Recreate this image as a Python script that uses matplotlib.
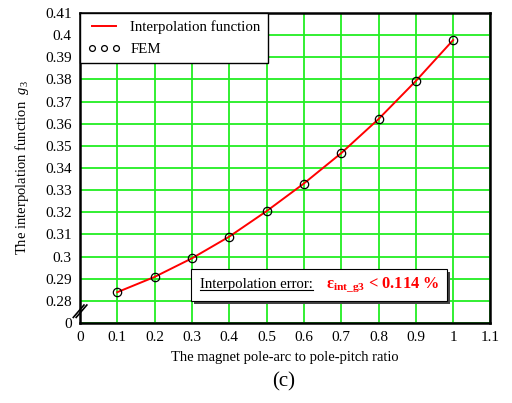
import matplotlib.pyplot as plt
from matplotlib.patches import Rectangle
from matplotlib.lines import Line2D

plt.rcParams['font.family'] = 'Liberation Serif'
plt.rcParams['mathtext.fontset'] = 'custom'
plt.rcParams['mathtext.rm'] = 'Liberation Serif'
plt.rcParams['mathtext.it'] = 'Liberation Serif:italic'
plt.rcParams['mathtext.bf'] = 'Liberation Serif:bold'

# datos
ratio = [0.1, 0.2, 0.3, 0.4, 0.5, 0.6, 0.7, 0.8, 0.9, 1.0]
g3_fem = [0.2839, 0.2907, 0.2992, 0.3089, 0.3205, 0.3329, 0.3466, 0.3621, 0.3793, 0.3978]
g3_interp = [0.2839, 0.2908, 0.2992, 0.3090, 0.3205, 0.3330, 0.3467, 0.3621, 0.3793, 0.3978]
xticks = [0, 0.1, 0.2, 0.3, 0.4, 0.5, 0.6, 0.7, 0.8, 0.9, 1.0, 1.1]
yticks = [0.27, 0.28, 0.29, 0.30, 0.31, 0.32, 0.33, 0.34, 0.35, 0.36, 0.37, 0.38, 0.39, 0.40, 0.41]
ylabels = ['0'] + ['%g' % v for v in yticks[1:]]

fig = plt.figure(figsize=(5.12, 4.03), dpi=100)
ax = fig.add_axes([0.156, 0.1985, 0.802, 0.7692])

ax.plot(ratio, g3_interp, color='red', lw=1.4, label='Interpolation function', zorder=3)
ax.plot(ratio, g3_fem, 'o', mfc='none', mec='black', ms=6, mew=0.9, label='FEM', zorder=4)

ax.set_xlim(0, 1.1)
ax.set_ylim(0.27, 0.41)
ax.set_xticks(xticks)
ax.set_xticklabels(['%g' % v for v in xticks])
ax.set_yticks(yticks)
ax.set_yticklabels(ylabels)
ax.tick_params(length=0, labelsize=11, pad=6)
ax.grid(True, color='#22ee22', lw=1.3)
ax.set_axisbelow(True)
for s in ax.spines.values():
    s.set_linewidth(1.8)

# marcas de corte en el eje y
for dx in (0.0, 0.007):
    ax.plot([-0.016 + dx, 0.010 + dx], [0.018, 0.058], color='black', lw=1.2,
            transform=ax.transAxes, clip_on=False, zorder=10)

ax.set_xlabel('The magnet pole-arc to pole-pitch ratio', fontsize=10.5, labelpad=5)
ax.set_ylabel(r'The interpolation function  $g_3$', fontsize=10.5, labelpad=10)

leg = ax.legend(loc='upper left', borderaxespad=0, fancybox=False, edgecolor='black',
                framealpha=1, numpoints=3, fontsize=10.7, handlelength=2.2,
                handletextpad=0.7, borderpad=0.5, labelspacing=0.55, markerscale=0.7)
leg.get_frame().set_linewidth(1.0)

# caja de error con sombra
bx, by, bw, bh = 0.2705, 0.0725, 0.624, 0.102
ax.add_patch(Rectangle((bx + 0.007, by - 0.011), bw, bh, transform=ax.transAxes,
                       facecolor='#444444', edgecolor='none', zorder=5))
ax.add_patch(Rectangle((bx, by), bw, bh, transform=ax.transAxes,
                       facecolor='white', edgecolor='black', lw=0.8, zorder=6))
t1 = ax.text(bx + 0.022, by + bh / 2, 'Interpolation error:', transform=ax.transAxes,
             fontsize=10.6, va='center', ha='left', zorder=7)
ax.text(bx + 0.33, by + bh / 2, r'$\mathbf{\varepsilon_{int\_g3}}$' + ' < 0.114 %',
        transform=ax.transAxes, fontsize=11.8, fontweight='bold', color='red',
        va='center', ha='left', zorder=7)

fig.text(0.553, 0.04, '(c)', fontsize=15, ha='center')

fig.canvas.draw()
bb = t1.get_window_extent().transformed(fig.transFigure.inverted())
fig.add_artist(Line2D([bb.x0, bb.x1], [bb.y0 + 0.004, bb.y0 + 0.004], color='black', lw=0.8))

fig.savefig('out.png', dpi=100)
